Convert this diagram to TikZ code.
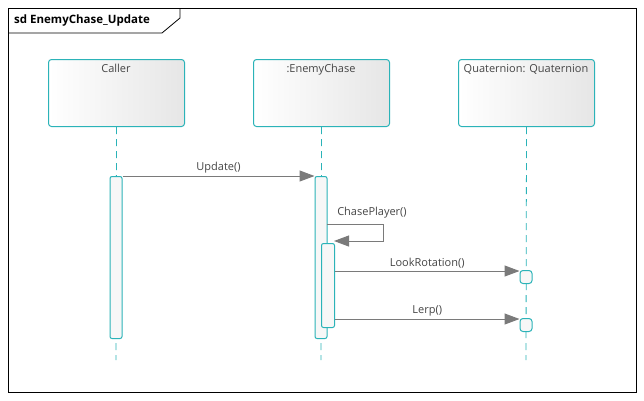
\documentclass[tikz,border=0pt]{standalone}
\usepackage{fontspec}
\setmainfont{Open Sans}
\usetikzlibrary{arrows.meta,shadings}
\definecolor{teal1}{HTML}{2BB3B8}
\definecolor{msggrey}{HTML}{7A7A7A}
\definecolor{txtgrey}{HTML}{454545}
\definecolor{boxgrey}{HTML}{E6E6E6}
\tikzset{
  x=1pt,y=-1pt,
  lifebox/.style={draw=teal1,line width=1pt,rounded corners=3pt,left color=white,right color=boxgrey,shading angle=90,minimum width=136pt,minimum height=67pt,anchor=north west,inner sep=0pt},
  lifelabel/.style={text=txtgrey,font=\fontsize{11}{13}\selectfont,anchor=north,inner sep=1pt},
  lifeline/.style={draw=teal1,line width=0.8pt,dash pattern=on 7pt off 5pt},
  act/.style={draw=teal1,line width=1pt,fill=white!97!black,rounded corners=2pt},
  msg/.style={draw=msggrey,line width=1pt,-{Triangle[length=15pt,width=11pt,fill=msggrey]}},
  msglabel/.style={text=txtgrey,font=\fontsize{11}{13}\selectfont,anchor=south,inner sep=2pt},
}
\begin{document}
\begin{tikzpicture}
\useasboundingbox (0,0) rectangle (644,400);
\fill[white] (0,0) rectangle (644,400);
% frame
\node[draw=black,line width=0.8pt,minimum width=628pt,minimum height=384pt,anchor=north west,inner sep=0pt] (frame) at (8,8) {};
\coordinate (t1) at (8,33);
\coordinate (t2) at (162,33);
\coordinate (t3) at (180,18);
\coordinate (t4) at (180,8);
\draw[line width=0.8pt] (t1) -- (t2) -- (t3) -- (t4);
\node[anchor=west,font=\bfseries\fontsize{11.5}{13}\selectfont,inner sep=0pt] (title) at (14,20.5) {sd EnemyChase\_Update};
% lifeline heads
\node[lifebox] (caller) at (48,59) {};
\node[lifebox] (enemy) at (253,59) {};
\node[lifebox] (quat) at (458,59) {};
\node[lifelabel] (callerL) at (116,63) {Caller};
\node[lifelabel] (enemyL) at (321,63) {:EnemyChase};
\node[lifelabel] (quatL) at (526,63) {Quaternion: Quaternion};
% lifelines
\coordinate (cEnd) at (116,360);
\coordinate (eEnd) at (321,360);
\coordinate (qEnd) at (526,360);
\draw[lifeline] (caller.south) -- (cEnd);
\draw[lifeline] (enemy.south) -- (eEnd);
\draw[lifeline] (quat.south) -- (qEnd);
% activations
\node[act,minimum width=12pt,minimum height=162pt,anchor=north,inner sep=0pt] (ca) at (116,176) {};
\node[act,minimum width=12pt,minimum height=162pt,anchor=north,inner sep=0pt] (ea) at (321,176) {};
\node[act,minimum width=13pt,minimum height=84pt,anchor=north west,inner sep=0pt] (eb) at (321,243) {};
\node[act,minimum width=12pt,minimum height=13pt,anchor=north,inner sep=0pt,rounded corners=3pt] (qa) at (526,270) {};
\node[act,minimum width=12pt,minimum height=13pt,anchor=north,inner sep=0pt,rounded corners=3pt] (qb) at (526,318) {};
% messages
\draw[msg] (ca.north east) -- node[msglabel] (m1) {Update()} (ea.north west);
\coordinate (s1) at (383,224);
\coordinate (s2) at (383,241);
\coordinate (sA) at (327,224);
\coordinate (sB) at (334,241);
\draw[msg] (sA) -- (s1) -- (s2) -- (sB);
\node[text=txtgrey,font=\fontsize{11}{13}\selectfont,anchor=south,inner sep=1.5pt] (m2) at (372,220) {ChasePlayer()};
\coordinate (qaIn) at ([yshift=-1pt]qa.north west);
\coordinate (qbIn) at ([yshift=-1pt]qb.north west);
\draw[msg] (eb.east |- qaIn) -- node[msglabel] (m3) {LookRotation()} (qaIn);
\draw[msg] (eb.east |- qbIn) -- node[msglabel] (m4) {Lerp()} (qbIn);
\end{tikzpicture}
\end{document}
